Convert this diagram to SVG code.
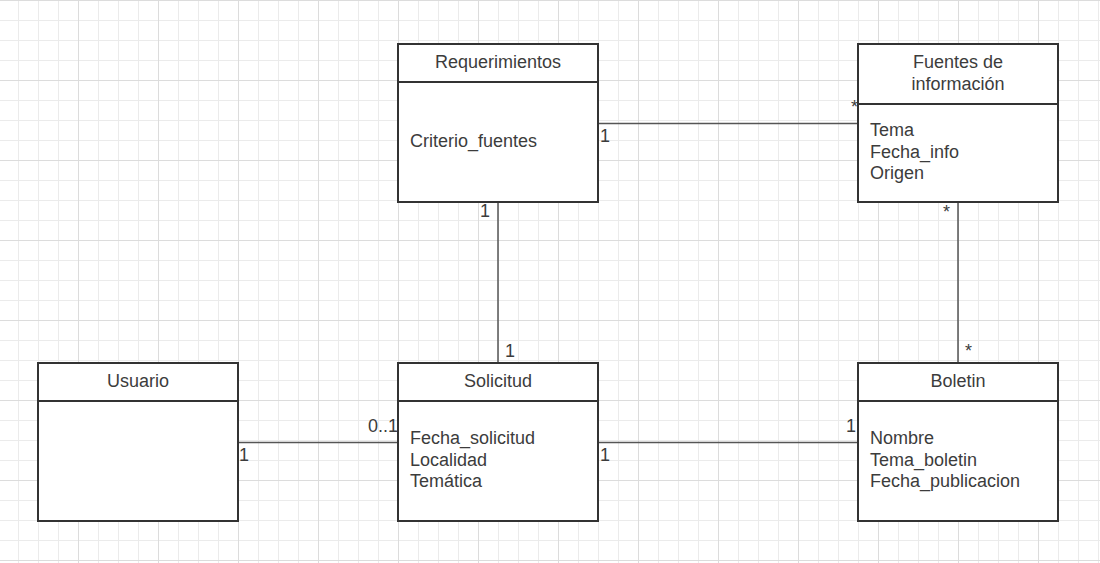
<svg xmlns="http://www.w3.org/2000/svg" width="1100" height="563" viewBox="0 0 1100 563">
<defs>
<pattern id="minor" patternUnits="userSpaceOnUse" x="18" y="0" width="20" height="20">
<path d="M0.5 0V20M0 0.5H20" fill="none" stroke="#ebebeb" stroke-width="1"/>
</pattern>
<pattern id="major" patternUnits="userSpaceOnUse" x="-2" y="0" width="80" height="80">
<path d="M0.5 0V80M0 0.5H80" fill="none" stroke="#dcdcdc" stroke-width="1"/>
</pattern>
</defs>
<style>
.box{fill:#fff;stroke:#333;stroke-width:2}
.sep{stroke:#333;stroke-width:2}
.conn{stroke:#555;stroke-width:1.5;fill:none}
text{font-family:"Liberation Sans",Arial,sans-serif;font-size:18px;fill:#3c3c3c}
.c{text-anchor:middle}
.e{text-anchor:end}
</style>
<rect width="1100" height="563" fill="#fff"/>
<rect width="1100" height="563" fill="url(#minor)"/>
<rect width="1100" height="563" fill="url(#major)"/>

<g id="connectors">
<line class="conn" x1="598" y1="123.5" x2="858" y2="123.5"/>
<line class="conn" x1="498" y1="202" x2="498" y2="363"/>
<line class="conn" x1="958" y1="202" x2="958" y2="363"/>
<line class="conn" x1="238" y1="442.5" x2="398" y2="442.5"/>
<line class="conn" x1="598" y1="442.5" x2="858" y2="442.5"/>
<text x="600" y="142">1</text>
<text class="e" x="858" y="113">*</text>
<text x="480" y="217">1</text>
<text x="505" y="357">1</text>
<text x="943" y="218">*</text>
<text x="965" y="357">*</text>
<text class="e" x="398" y="432">0..1</text>
<text x="239" y="461">1</text>
<text x="600" y="461">1</text>
<text x="846" y="432">1</text>
</g>

<g id="requerimientos">
<rect class="box" x="398" y="44" width="200" height="158"/>
<line class="sep" x1="398" y1="82" x2="598" y2="82"/>
<text class="c" x="498" y="68">Requerimientos</text>
<text x="410" y="147">Criterio_fuentes</text>
</g>

<g id="fuentes">
<rect class="box" x="858" y="44" width="200" height="158"/>
<line class="sep" x1="858" y1="104" x2="1058" y2="104"/>
<text class="c" x="958" y="68">Fuentes de</text>
<text class="c" x="958" y="89.5">información</text>
<text x="870" y="136">Tema</text>
<text x="870" y="157.5">Fecha_info</text>
<text x="870" y="179">Origen</text>
</g>

<g id="usuario">
<rect class="box" x="38" y="363" width="200" height="158"/>
<line class="sep" x1="38" y1="401" x2="238" y2="401"/>
<text class="c" x="138" y="387">Usuario</text>
</g>

<g id="solicitud">
<rect class="box" x="398" y="363" width="200" height="158"/>
<line class="sep" x1="398" y1="401" x2="598" y2="401"/>
<text class="c" x="498" y="387">Solicitud</text>
<text x="410" y="444">Fecha_solicitud</text>
<text x="410" y="465.5">Localidad</text>
<text x="410" y="487">Temática</text>
</g>

<g id="boletin">
<rect class="box" x="858" y="363" width="200" height="158"/>
<line class="sep" x1="858" y1="401" x2="1058" y2="401"/>
<text class="c" x="958" y="387">Boletin</text>
<text x="870" y="444">Nombre</text>
<text x="870" y="465.5">Tema_boletin</text>
<text x="870" y="487">Fecha_publicacion</text>
</g>
</svg>
